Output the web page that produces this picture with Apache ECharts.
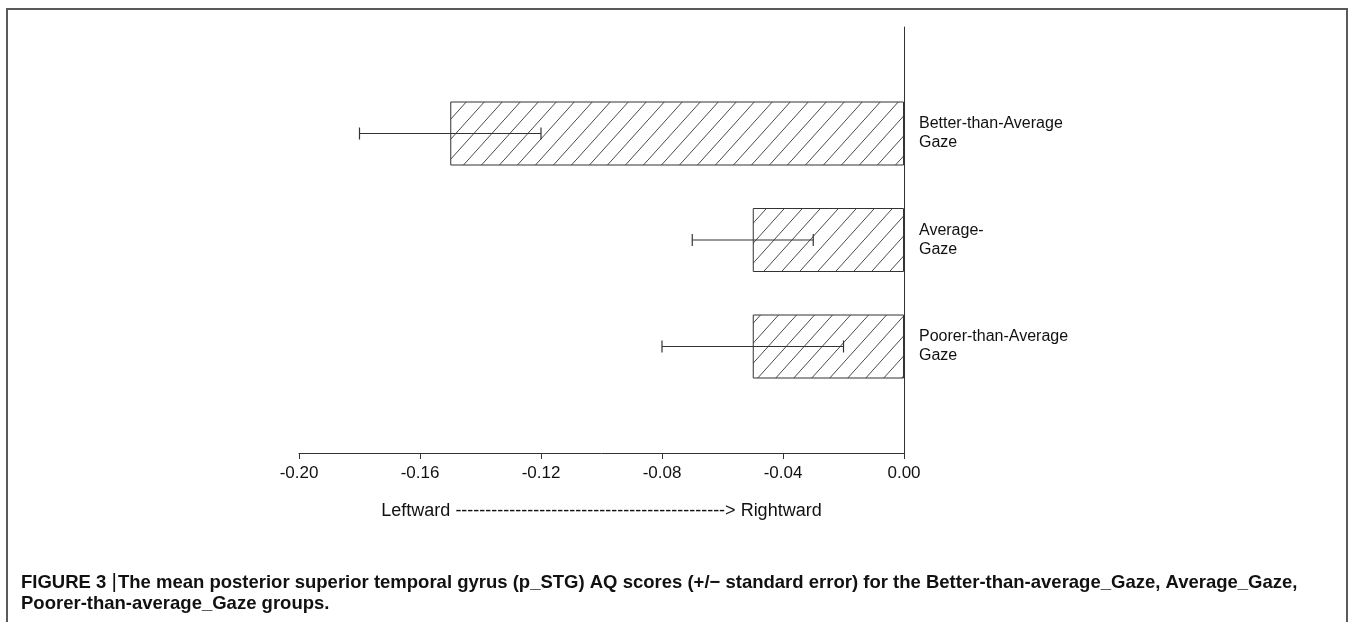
<!DOCTYPE html>
<html>
<head>
<meta charset="utf-8">
<script src="https://cdn.jsdelivr.net/npm/echarts@6/dist/echarts.min.js"></script>
<style>
  html, body { margin: 0; padding: 0; background: #fff; }
  #chart { width: 1350px; height: 622px; }
</style>
</head>
<body>
<div id="chart"></div>
<script>
// ---- data ----
const categories = ['Better-than-Average\nGaze', 'Average-\nGaze', 'Poorer-than-Average\nGaze'];
const meanAQ   = [-0.15, -0.05, -0.05];
const errLow   = [-0.18, -0.07, -0.08];
const errHigh  = [-0.12, -0.03, -0.02];
const xMin = -0.20, xMax = 0.00, xStep = 0.04;
const axisName = 'Leftward ' + '-'.repeat(45) + '> Rightward';
const captionLine1 = 'The mean posterior superior temporal gyrus (p_STG) AQ scores (+/\u2212 standard error) for the Better-than-average_Gaze, Average_Gaze,';
const captionLine2 = 'Poorer-than-average_Gaze groups.';

// padded category list so the axis runs half a band beyond the outer groups
const yCats = [''].concat(categories, ['']);
const barData = ['-'].concat(meanAQ, ['-']);
const errData = categories.map((c, i) => [i + 1, errLow[i], errHigh[i]]);

// diagonal hatch pattern
const tile = document.createElement('canvas');
tile.width = 18; tile.height = 20;
const ctx = tile.getContext('2d');
ctx.fillStyle = '#ffffff';
ctx.fillRect(0, 0, tile.width, tile.height);
ctx.strokeStyle = '#4a4a4a';
ctx.lineWidth = 1;
for (let k = -1; k <= 1; k++) {
  ctx.beginPath();
  ctx.moveTo(k * tile.width, tile.height);
  ctx.lineTo(k * tile.width + tile.width, 0);
  ctx.stroke();
}

const FONT = 'Liberation Sans, Arial, sans-serif';
const chart = echarts.init(document.getElementById('chart'), null, { renderer: 'canvas' });

chart.setOption({
  backgroundColor: '#ffffff',
  animation: false,
  textStyle: { fontFamily: FONT },
  graphic: [{
    type: 'rect',
    shape: { x: 7, y: 9, width: 1340, height: 700 },
    style: { fill: null, stroke: '#5a5a5a', lineWidth: 2 },
    silent: true
  }],
  title: {
    left: 21, top: 572, padding: 0,
    text: '{b|FIGURE 3 }{bar||}{b|' + captionLine1 + '}\n{b|' + captionLine2 + '}',
    textStyle: {
      rich: {
        b: { fontFamily: FONT, fontWeight: 'bold', fontSize: 18.5, color: '#111', lineHeight: 21 },
        bar: { fontFamily: FONT, fontWeight: 'normal', fontSize: 21, color: '#111', lineHeight: 21, padding: [0, 1, 0, 0] }
      }
    }
  },
  grid: { left: 299, right: 446, top: 27, bottom: 169, containLabel: false },
  xAxis: {
    type: 'value',
    min: xMin, max: xMax, interval: xStep,
    splitLine: { show: false },
    axisLine: { show: true, lineStyle: { color: '#333', width: 1 } },
    axisTick: { show: true, length: 6, lineStyle: { color: '#333' } },
    axisLabel: {
      color: '#111', fontSize: 17, margin: 12, fontFamily: FONT,
      formatter: v => v.toFixed(2)
    },
    name: axisName,
    nameLocation: 'middle',
    nameGap: 49,
    nameTextStyle: { color: '#111', fontSize: 18, fontFamily: FONT }
  },
  yAxis: {
    type: 'category',
    data: yCats,
    inverse: true,
    position: 'right',
    boundaryGap: false,
    axisLine: { show: true, onZero: false, lineStyle: { color: '#333', width: 1 } },
    axisTick: { show: false },
    splitLine: { show: false },
    axisLabel: {
      color: '#111', fontSize: 16, lineHeight: 19, margin: 15,
      fontFamily: FONT, align: 'left', interval: 0
    }
  },
  series: [
    {
      type: 'bar',
      data: barData,
      barWidth: 64,
      itemStyle: {
        color: { image: tile, repeat: 'repeat' },
        borderColor: '#333',
        borderWidth: 1
      },
      z: 2
    },
    {
      type: 'custom',
      data: errData,
      encode: { y: 0, x: [1, 2] },
      z: 5,
      renderItem: function (params, api) {
        const yi = api.value(0);
        const p1 = api.coord([api.value(1), yi]);
        const p2 = api.coord([api.value(2), yi]);
        const h = 6;
        const st = { stroke: '#333', lineWidth: 1.2 };
        return {
          type: 'group',
          children: [
            { type: 'line', shape: { x1: p1[0], y1: p1[1], x2: p2[0], y2: p2[1] }, style: st },
            { type: 'line', shape: { x1: p1[0], y1: p1[1] - h, x2: p1[0], y2: p1[1] + h }, style: st },
            { type: 'line', shape: { x1: p2[0], y1: p2[1] - h, x2: p2[0], y2: p2[1] + h }, style: st }
          ]
        };
      }
    }
  ]
});
</script>
</body>
</html>
